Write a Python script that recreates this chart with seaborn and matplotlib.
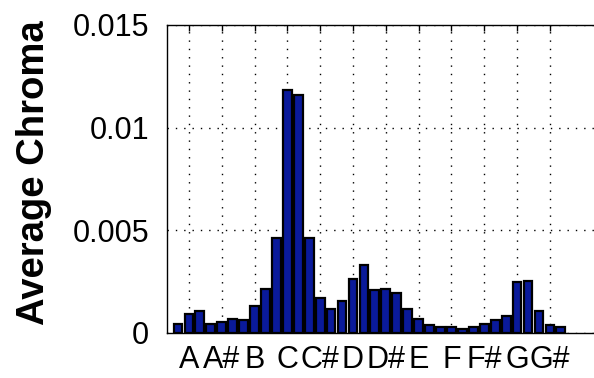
import matplotlib
matplotlib.use("Agg")
import matplotlib.pyplot as plt
import pandas as pd
import seaborn as sns

# Pitch classes labelled under the centre of each group of three bins
pitch_labels = ["A", "A#", "B", "C", "C#", "D", "D#", "E", "F", "F#", "G", "G#"]
bin_index = list(range(1, 37))
chroma = [
    0.00045, 0.00091, 0.00106,
    0.00045, 0.00054, 0.00068,
    0.00062, 0.00131, 0.00216,
    0.00463, 0.01182, 0.01159,
    0.00463, 0.00169, 0.00115,
    0.00154, 0.00263, 0.00331,
    0.00208, 0.00216, 0.00193,
    0.00115, 0.00068, 0.00039,
    0.00029, 0.00029, 0.00021,
    0.00029, 0.00045, 0.00062,
    0.00084, 0.00247, 0.00253,
    0.00107, 0.00039, 0.00029,
]
y_ticks = [0, 0.005, 0.01, 0.015]
y_tick_labels = ["0", "0.005", "0.01", "0.015"]

df = pd.DataFrame({"bin": bin_index, "chroma": chroma})

sns.set_style("white")
plt.rcParams["font.family"] = ["Liberation Sans", "DejaVu Sans"]
plt.rcParams["text.color"] = "black"
plt.rcParams["axes.labelcolor"] = "black"

fig = plt.figure(figsize=(5.94, 3.78), dpi=100)
ax = fig.add_axes([167 / 594, 45 / 378, 437.6 / 594, 308 / 378])

sns.barplot(data=df, x="bin", y="chroma", native_scale=True, width=0.8,
            color="#0a1a9a", saturation=1, edgecolor="black", linewidth=1.6,
            errorbar=None, ax=ax)

ax.set_xlim(0, 40)
ax.set_ylim(0, 0.015)
ax.set_xticks([3 * i + 2 for i in range(len(pitch_labels))])
ax.set_xticklabels(pitch_labels)
ax.set_yticks(y_ticks)
ax.set_yticklabels(y_tick_labels)
ax.set_xlabel("")
ax.set_ylabel("Average Chroma", fontsize=27.5, fontweight="bold", color="black")
ax.yaxis.set_label_coords(-0.262, 0.52)

ax.tick_params(axis="both", direction="in", length=4, width=1, colors="black",
               labelcolor="black", labelsize=22, top=True, right=True)
ax.tick_params(axis="x", pad=9)
ax.tick_params(axis="y", pad=13)

ax.grid(True, linestyle=(0, (1, 5)), color="black", linewidth=1.0)
ax.set_axisbelow(True)
for side in ax.spines.values():
    side.set_color("black")
    side.set_linewidth(1.0)
    side.set_visible(True)

fig.savefig("out.png", dpi=100)
